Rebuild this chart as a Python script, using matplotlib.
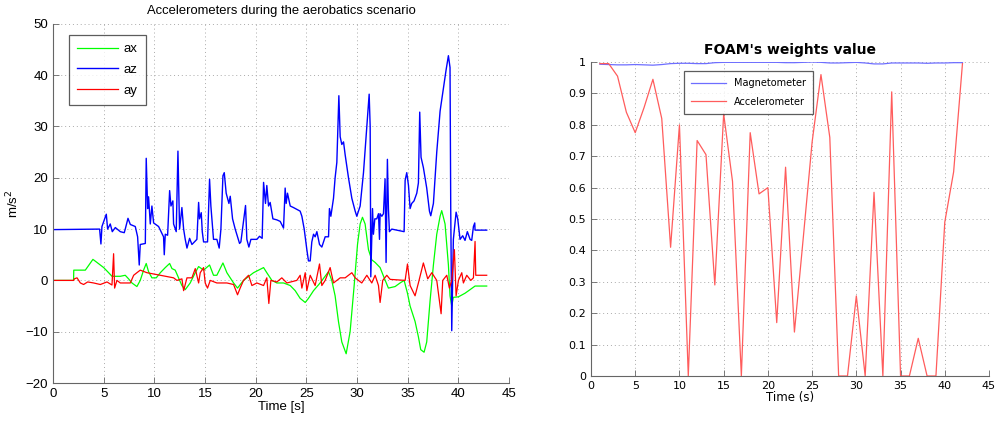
import matplotlib
matplotlib.use("Agg")
import matplotlib.pyplot as plt

# ---- left panel: accelerometer traces ----
az_t = [0, 4.60, 4.73, 4.83, 5.26, 5.39, 5.65, 5.85, 6.15, 6.64, 7.03, 7.13, 7.40, 7.63, 8.12, 8.35,
        8.51, 8.61, 9.11, 9.20, 9.34, 9.43, 9.60, 9.76, 9.93, 10.42, 10.91, 10.98, 11.08, 11.31, 11.51,
        11.64, 11.83, 11.90, 12.16, 12.33, 12.49, 12.72, 12.89, 13.05, 13.22, 13.48, 13.71, 14.20, 14.37,
        14.46, 14.63, 14.73, 14.86, 15.25, 15.45, 15.58, 15.84, 16.17, 16.40, 16.57, 16.77, 16.90, 17.09,
        17.36, 17.49, 17.72, 17.98, 18.21, 18.41, 18.54, 19.00, 19.13, 19.33, 19.53, 20.12, 20.38, 20.64,
        20.78, 20.97, 21.10, 21.27, 21.43, 21.70, 22.09, 22.42, 22.75, 22.91, 23.01, 23.14, 23.41, 23.73,
        24.39, 24.56, 24.79, 25.05, 25.21, 25.38, 25.54, 25.71, 25.87, 26.04, 26.30, 26.53, 26.86, 27.19,
        27.28, 27.42, 27.68, 27.84, 28.01, 28.21, 28.34, 28.50, 28.67, 28.83, 29.16, 29.49, 29.82, 29.98,
        30.31, 30.64, 30.97, 31.20, 31.30, 31.36, 31.53, 31.62, 31.76, 31.95, 32.12, 32.22, 32.28, 32.45,
        32.61, 32.77, 32.87, 33.00, 33.10, 33.20, 33.43, 34.65, 34.75, 34.91, 35.08, 35.24, 35.40, 35.63,
        35.90, 36.06, 36.19, 36.32, 36.55, 36.88, 37.15, 37.28, 37.54, 37.87, 38.20, 38.53, 38.79, 39.02,
        39.18, 39.25, 39.35, 39.45, 39.51, 39.78, 39.94, 40.17, 40.43, 40.66, 40.89, 41.16, 41.32, 41.49,
        41.62, 41.65, 42.80]
az_v = [9.9, 10.0, 7.1, 10.5, 12.9, 10.0, 11.0, 9.5, 10.3, 9.5, 9.3, 10.0, 12.1, 10.9, 10.5, 8.5,
        3.0, 7.0, 7.2, 23.8, 14.0, 16.3, 11.0, 14.5, 11.2, 10.5, 8.5, 5.0, 9.0, 8.8, 17.5,
        14.5, 15.5, 11.0, 9.5, 25.2, 10.0, 14.2, 10.0, 8.0, 6.3, 8.2, 7.0, 8.0, 15.2,
        12.0, 13.2, 9.5, 7.5, 7.5, 19.7, 14.5, 8.0, 8.0, 6.3, 10.0, 20.4, 21.0, 17.0,
        15.0, 16.4, 12.0, 10.0, 8.5, 7.2, 7.5, 14.6, 8.0, 6.5, 8.0, 8.0, 8.6, 8.2,
        19.1, 15.0, 18.5, 14.5, 15.2, 12.0, 11.8, 11.5, 10.2, 18.0, 15.0, 17.0, 14.5, 14.2,
        13.5, 12.5, 10.0, 6.0, 3.8, 3.8, 7.5, 9.0, 8.5, 9.5, 7.0, 6.5, 8.5, 8.5,
        14.0, 12.5, 16.0, 20.0, 23.0, 36.0, 28.0, 26.5, 27.0, 24.5, 20.0, 16.0, 13.5, 12.5,
        14.5, 21.0, 30.0, 36.3, 30.0, 0.7, 14.0, 9.0, 12.0, 12.0, 13.0, 8.0, 13.0, 12.5,
        13.0, 19.8, 3.5, 23.6, 14.0, 9.5, 10.0, 9.5, 19.5, 21.0, 18.5, 14.0, 15.0, 15.5,
        17.0, 19.0, 32.8, 24.0, 22.0, 18.0, 13.5, 12.6, 15.0, 25.0, 33.0, 37.5, 41.0, 43.8,
        41.5, 14.0, -9.8, 2.0, 8.0, 13.3, 12.0, 8.0, 8.7, 7.8, 9.5, 8.0, 7.8, 10.5,
        11.2, 9.8, 9.8]

ax_t = [0, 2.03, 2.05, 3.19, 3.94, 4.34, 5.00, 5.49, 5.82, 6.64, 7.13, 7.46, 7.79, 8.28, 8.61, 8.94,
        9.20, 9.43, 9.76, 10.19, 10.59, 11.08, 11.51, 11.74, 12.06, 12.39, 12.72, 13.05, 13.54, 14.04,
        14.37, 14.86, 15.45, 15.84, 16.17, 16.77, 17.16, 17.49, 17.82, 18.21, 18.80, 19.79, 20.78, 21.10,
        21.60, 22.09, 22.75, 23.41, 23.90, 24.39, 24.89, 25.21, 25.71, 26.36, 27.19, 27.51, 27.84, 28.17,
        28.50, 28.93, 29.32, 29.72, 30.05, 30.31, 30.54, 30.80, 31.13, 31.46, 31.79, 32.28, 32.68, 33.10,
        33.76, 34.25, 34.65, 34.98, 35.24, 35.73, 36.06, 36.29, 36.62, 36.88, 37.21, 37.54, 37.87, 38.20,
        38.36, 38.69, 39.02, 39.18, 39.35, 39.51, 40.01, 40.66, 41.16, 41.65, 42.80]
ax_v = [0, 0, 2.0, 2.0, 4.1, 3.5, 2.5, 1.5, 0.8, 0.8, 1.0, 0.3, -0.5, -1.2, 0.0, 2.0,
        3.3, 1.7, 0.5, 0.5, 1.5, 2.5, 3.3, 2.3, 2.0, 0.5, -1.0, -1.8, -0.5, 1.5,
        2.7, 2.0, 3.0, 1.0, 1.0, 3.4, 1.5, 0.5, -0.5, -1.5, 0.0, 1.5, 2.5, 1.5,
        0.0, -0.5, -0.5, -1.0, -2.0, -3.5, -4.3, -3.5, -2.0, -0.5, 1.7, 0.0, -3.0, -8.0,
        -12.0, -14.3, -10.0, -1.0, 7.0, 11.0, 12.3, 11.0, 6.0, 4.0, 3.5, 2.5, 0.5, -1.5,
        -1.2, -0.5, 0.0, -2.5, -5.0, -8.0, -11.0, -13.5, -14.0, -12.0, -4.0, 3.0, 9.0, 12.5,
        13.6, 11.0, 3.0, -3.0, -5.0, -3.3, -3.2, -2.5, -1.8, -1.1, -1.1]

ay_t = [0, 2.04, 2.10, 2.37, 2.70, 3.02, 3.42, 4.01, 4.67, 5.33, 5.82, 5.98, 6.08, 6.31, 6.64, 7.30,
        7.63, 7.96, 8.28, 8.61, 9.27, 10.59, 11.90, 12.23, 12.72, 12.89, 13.22, 13.71, 14.04, 14.37,
        14.53, 14.86, 15.02, 15.25, 15.52, 16.17, 17.16, 17.82, 18.21, 18.47, 18.80, 19.30, 19.63, 20.12,
        20.78, 21.10, 21.30, 21.50, 22.09, 22.58, 23.08, 24.06, 24.39, 24.56, 24.89, 25.05, 25.38, 25.87,
        26.30, 26.53, 26.86, 27.35, 27.68, 28.34, 28.83, 29.49, 29.82, 30.14, 30.47, 30.97, 31.46, 31.79,
        32.12, 32.28, 32.54, 32.94, 33.27, 34.75, 34.98, 35.24, 35.73, 36.06, 36.55, 36.98, 37.38, 37.87,
        38.30, 38.46, 38.86, 39.12, 39.35, 39.61, 39.78, 40.01, 40.34, 40.50, 40.83, 41.23, 41.49, 41.65,
        41.72, 42.80]
ay_v = [0, 0, 0.3, 0.5, -0.5, -0.8, -0.3, -0.5, -0.8, -0.3, -0.9, 5.2, -1.5, 0.0, -0.5, -0.5,
        -0.5, 1.0, 1.5, 2.0, 1.5, 1.0, 0.5, 0.0, 0.3, -2.0, 0.5, 0.5, 2.3, -0.5,
        1.5, 2.5, -0.5, -1.5, 0.0, -0.5, -0.5, -0.8, -2.8, -1.5, 0.0, 1.0, -1.0, -0.5,
        -1.0, 0.5, -4.5, 0.0, -0.3, 0.5, -0.5, 0.0, 1.0, -1.5, 1.5, -2.0, 1.0, -1.0,
        3.2, -1.0, 0.0, 2.5, -0.5, 0.5, 0.5, 1.5, 0.5, 0.0, -0.5, 1.0, -0.5, 1.0,
        -1.0, -4.3, 0.0, 1.0, 0.2, 0.0, 3.2, -1.0, -3.0, -0.5, 3.4, 0.3, 1.5, 0.0,
        -6.5, 0.0, 1.0, -1.5, 0.0, 6.0, -3.0, 0.0, 1.5, -0.5, 1.0, 0.0, 0.5, 7.6,
        1.0, 1.0]

# ---- right panel: FOAM weights, one value per second ----
foam_t = list(range(1, 43))
mag_w = [0.993, 0.992, 0.991, 0.991, 0.992, 0.991, 0.990, 0.992, 0.995, 0.996, 0.996, 0.995, 0.995, 0.998,
         0.999, 0.999, 0.999, 0.999, 0.999, 0.999, 0.999, 0.998, 0.998, 0.999, 1.0, 0.999, 0.997, 0.997,
         0.998, 0.999, 0.997, 0.994, 0.994, 0.997, 0.997, 0.997, 0.997, 0.996, 0.997, 0.997, 0.998, 0.998]
acc_w = [0.995, 0.995, 0.955, 0.84, 0.775, 0.855, 0.945, 0.82, 0.41, 0.80, 0.0, 0.75, 0.705, 0.29,
         0.835, 0.62, 0.0, 0.775, 0.58, 0.60, 0.17, 0.665, 0.14, 0.44, 0.745, 0.96, 0.76, 0.0,
         0.0, 0.255, 0.0, 0.585, 0.0, 0.905, 0.0, 0.0, 0.12, 0.0, 0.0, 0.49, 0.65, 0.995]

spine_col = "#666666"


def matlab_axes(ax, fs, family):
    for s in ["top", "right"]:
        ax.spines[s].set_visible(False)
    for s in ["left", "bottom"]:
        ax.spines[s].set_color(spine_col)
        ax.spines[s].set_linewidth(0.8)
    ax.tick_params(direction="in", length=4, width=0.6, color=spine_col, labelsize=fs)
    for lab in ax.get_xticklabels() + ax.get_yticklabels():
        lab.set_family(family)
    ax.grid(True, linestyle=(0, (1, 3)), color="#aaaaaa", linewidth=0.7)
    ax.set_axisbelow(True)


fig = plt.figure(figsize=(10, 4.22), dpi=100)

# left
ax1 = fig.add_axes([0.053, 0.0924, 0.456, 0.851])
ax1.plot(ax_t, ax_v, color="#00ff00", linewidth=0.9, label="ax")
ax1.plot(az_t, az_v, color="#0000ff", linewidth=1.0, label="az")
ax1.plot(ay_t, ay_v, color="#ff0000", linewidth=0.9, label="ay")
ax1.set_xlim(0, 45)
ax1.set_ylim(-20, 50)
ax1.set_xticks(range(0, 46, 5))
ax1.set_yticks(range(-20, 51, 10))
ax1.set_yticklabels(["\u221220", "\u221210", "0", "10", "20", "30", "40", "50"])
matlab_axes(ax1, 9.5, "Liberation Sans")
ax1.set_title("Accelerometers during the aerobatics scenario", fontsize=9.4, family="Liberation Sans", pad=7)
ax1.set_xlabel("Time [s]", fontsize=9.5, family="Liberation Sans", labelpad=1)
ax1.set_ylabel("m/s$^2$", fontsize=9.5, family="Liberation Sans", labelpad=3)
leg1 = ax1.legend(loc="upper left", bbox_to_anchor=(0.035, 0.969), borderaxespad=0,
                  prop={"family": "Liberation Sans", "size": 9.5}, fancybox=False,
                  handlelength=3.1, labelspacing=0.65, borderpad=0.6, handletextpad=0.45)
leg1.get_frame().set_edgecolor("#333333")
leg1.get_frame().set_linewidth(0.9)

# right
ax2 = fig.add_axes([0.591, 0.109, 0.398, 0.744])
ax2.plot(foam_t, mag_w, color="#6e6eff", linewidth=0.9, label="Magnetometer")
ax2.plot(foam_t, acc_w, color="#ff5c5c", linewidth=0.9, label="Accelerometer")
ax2.set_xlim(0, 45)
ax2.set_ylim(0, 1)
ax2.set_xticks(range(0, 46, 5))
ax2.set_yticks([i / 10 for i in range(11)])
ax2.set_yticklabels(["0", "0.1", "0.2", "0.3", "0.4", "0.5", "0.6", "0.7", "0.8", "0.9", "1"])
matlab_axes(ax2, 8, "DejaVu Sans")
ax2.set_title("FOAM's weights value", fontsize=10, fontweight="bold", family="DejaVu Sans", pad=6)
ax2.set_xlabel("Time (s)", fontsize=8.5, family="DejaVu Sans", labelpad=0)
leg2 = ax2.legend(loc="upper left", bbox_to_anchor=(0.234, 0.971), borderaxespad=0,
                  prop={"family": "DejaVu Sans", "size": 7}, fancybox=False,
                  handlelength=3.6, labelspacing=0.9, borderpad=0.7, handletextpad=0.8)
leg2.get_frame().set_edgecolor("#333333")
leg2.get_frame().set_linewidth(0.9)

fig.savefig("out.png", dpi=100)
